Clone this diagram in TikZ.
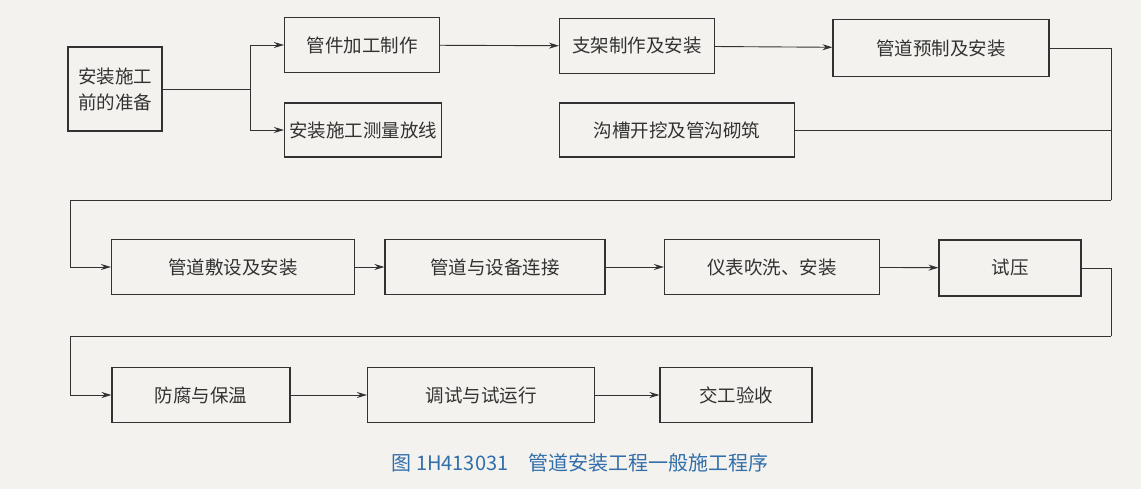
\documentclass[tikz,border=0pt]{standalone}
\usepackage{fontspec}
\setmainfont{Noto Sans CJK SC}
\usetikzlibrary{arrows.meta}
\definecolor{paper}{RGB}{243,242,238}
\definecolor{ink}{RGB}{50,50,50}
\definecolor{cap}{RGB}{50,110,170}
\tikzset{box/.style={draw=ink,line width=1.1pt,inner sep=0pt,align=center,font=\fontsize{18.5}{26}\selectfont,text=ink},
conn/.style={draw=ink,line width=0.9pt},
arr/.style={conn,-{Stealth[length=10pt,width=6pt]}}}
\begin{document}
\begin{tikzpicture}[x=1pt,y=-1pt]
\fill[paper] (0,0) rectangle (1141,489);
\useasboundingbox (0,0) rectangle (1141,489);
\node[box,minimum width=94pt,minimum height=84pt] (A) at (115,89) {安装施工\\前的准备};
\node[box,minimum width=155pt,minimum height=55pt] (B) at (362,45) {管件加工制作};
\node[box,minimum width=157pt,minimum height=54pt] (C) at (363,130) {安装施工测量放线};
\node[box,minimum width=155pt,minimum height=55pt] (D) at (637,46) {支架制作及安装};
\node[box,minimum width=216pt,minimum height=57pt] (E) at (941,48) {管道预制及安装};
\node[box,minimum width=235pt,minimum height=54pt] (F) at (677,130) {沟槽开挖及管沟砌筑};
\node[box,minimum width=243pt,minimum height=55pt] (G) at (233,267) {管道敷设及安装};
\node[box,minimum width=220pt,minimum height=55pt] (H) at (495,267) {管道与设备连接};
\node[box,minimum width=215pt,minimum height=55pt] (I) at (772,267) {仪表吹洗、安装};
\node[box,minimum width=142pt,minimum height=56pt] (J) at (1010,268) {试压};
\node[box,minimum width=178pt,minimum height=55pt] (K) at (201,395) {防腐与保温};
\node[box,minimum width=227pt,minimum height=55pt] (L) at (481,395) {调试与试运行};
\node[box,minimum width=152pt,minimum height=55pt] (M) at (736,395) {交工验收};
\node[font=\fontsize{20}{24}\selectfont,text=cap] (cap) at (580,463) {图 1H413031\quad 管道安装工程一般施工程序};
\coordinate (br) at (250,89);
\draw[conn] (A.east) -- (br);
\draw[arr] (br) |- (B.west);
\draw[arr] (br) |- (C.west);
\draw[arr] (B) -- (D);
\draw[arr] (D) -- (E);
\coordinate (r1) at (1111,200);
\coordinate (l1) at (70,200);
\draw[conn] (E.east) -| (r1);
\draw[conn] (F.east) -- (F.east -| r1);
\draw[arr] (r1) -- (l1) |- (G.west);
\draw[arr] (G) -- (H);
\draw[arr] (H) -- (I);
\draw[arr] (I) -- (J);
\coordinate (r2) at (1111,336);
\coordinate (l2) at (70,336);
\draw[conn] (J.east) -| (r2);
\draw[arr] (r2) -- (l2) |- (K.west);
\draw[arr] (K) -- (L);
\draw[arr] (L) -- (M);
\end{tikzpicture}
\end{document}
